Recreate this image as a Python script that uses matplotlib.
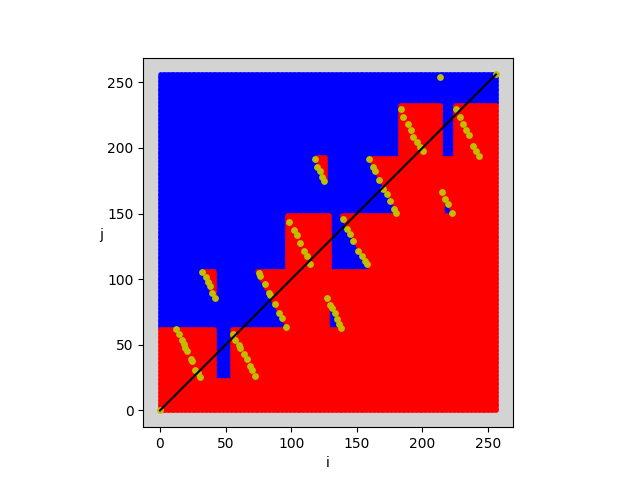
import numpy as np
import matplotlib
matplotlib.use('Agg')
import matplotlib.pyplot as plt
from matplotlib.path import Path

# grid size (i, j run from 0 to 256)
N = 257

# red rectangles, inclusive index ranges
red_i0 = [0, 0, 55, 74, 97, 139, 159, 183, 225]
red_i1 = [256, 41, 256, 256, 129, 256, 256, 213, 256]
red_j0 = [0, 24, 24, 63, 107, 107, 150, 193, 193]
red_j1 = [23, 62, 62, 106, 149, 149, 192, 233, 233]

# small red triangles right of a yellow strip
red_tris = [
    [(32, 106.5), (42, 106.5), (42, 85)],
    [(118, 193), (126.3, 193), (126.3, 176)],
]

# blue triangles left of a yellow strip
blue_tris = [
    [(72, 62.6), (72, 109), (97.5, 62.6)],
    [(127.5, 62.6), (127.5, 87), (139.5, 62.6)],
    [(138, 106.6), (138, 149), (160.5, 106.6)],
    [(158, 149.6), (158, 195), (182, 149.6)],
    [(215.5, 149.6), (215.5, 168), (223.5, 149.6)],
]

# yellow points
yellow_i = [0, 213, 256,
            12.4, 14.4, 16.5, 18.2, 19, 20.8, 23.3, 24.6, 26.6, 29.1, 30.4,
            55.7, 57.5, 60, 61.3, 63.8, 66.3, 68.9, 70.1, 72.2,
            32.1, 34.7, 36.5, 38, 39.7, 41.8,
            75.2, 76.5, 79.8, 82.8, 84.1, 87.9, 90.4, 92.9, 96,
            127.1, 129.7, 130.9, 133, 134.7, 136.5, 138,
            98, 101.8, 104.3, 106.9, 109.4, 111.9, 114.5,
            139.8, 142.3, 144.9, 147.4, 151.2, 153.7, 156.3, 157.5,
            118.3, 119.5, 121.6, 123.3, 125.2,
            159.6, 162.1, 163.9, 167.2, 170.2, 172.7, 175.3, 178.3, 179.9,
            183.4, 185.4, 189.2, 191, 193, 195.5, 198.1, 200.1,
            225.4, 228.5, 231, 233, 235.6, 238.6, 241.1, 243.2,
            214.5, 217.1, 219.6, 222.1]
yellow_j = [0, 254, 256,
            61.7, 57.9, 54, 50.5, 47.6, 45.1, 38.8, 37.5, 31.1, 28.5, 25.2,
            57.9, 54, 50.2, 47.6, 42.6, 38.8, 33.6, 31.1, 26,
            105.5, 101.7, 98.1, 94.8, 89.7, 85.4,
            105, 102.4, 96.6, 89.7, 87.9, 80.8, 74.4, 70.6, 63.5,
            85.4, 80.3, 77.8, 74.4, 69.3, 65.5, 62.5,
            143.2, 137.4, 133.8, 127.9, 121.6, 117.7, 111.4,
            145.8, 138.1, 134.3, 129.2, 121.6, 117.7, 113.9, 111.4,
            191.7, 185.2, 182.2, 178.1, 175.1,
            191.7, 185.2, 182.7, 175.6, 168.7, 164.9, 159.8, 153.4, 150.1,
            229.9, 223.5, 218.4, 213.8, 208.2, 204.4, 200.5, 197.5,
            229.9, 223.5, 218.4, 213.8, 209.5, 201.8, 198, 194.2,
            166.1, 161.1, 157.3, 150.1]


def build_mask():
    ii, jj = np.meshgrid(np.arange(N), np.arange(N))
    ii = ii.ravel()
    jj = jj.ravel()
    red = np.zeros(ii.size, dtype=bool)
    for a, b, c, d in zip(red_i0, red_i1, red_j0, red_j1):
        red |= (ii >= a) & (ii <= b) & (jj >= c) & (jj <= d)
    pts = np.column_stack([ii, jj])
    for tri in red_tris:
        red |= Path(tri).contains_points(pts)
    for tri in blue_tris:
        red &= ~Path(tri).contains_points(pts)
    return ii, jj, red


def main():
    ii, jj, red = build_mask()

    fig, ax = plt.subplots(figsize=(6.4, 4.8), dpi=100)
    ax.set_facecolor('lightgray')

    ax.scatter(ii[~red], jj[~red], c='b', s=10, linewidths=0)
    ax.scatter(ii[red], jj[red], c='r', s=10, linewidths=0)
    ax.scatter(yellow_i, yellow_j, c='y', s=24, linewidths=0)
    ax.plot([0, N - 1], [0, N - 1], 'k-', linewidth=1.5)

    ax.set_aspect('equal')
    ax.set_xlabel('i')
    ax.set_ylabel('j', rotation=0)

    fig.savefig('out.png', dpi=100)
    plt.close(fig)


if __name__ == '__main__':
    main()
